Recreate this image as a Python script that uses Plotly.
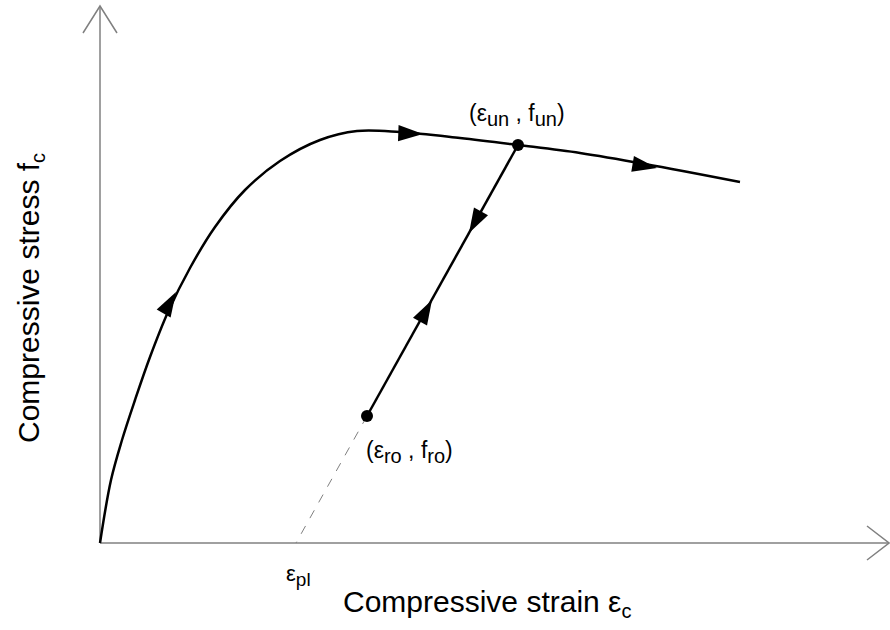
import plotly.graph_objects as go

# Envelope curve (strain, stress) in arbitrary units
env_strain = [0.0, 0.11, 0.22, 0.35, 0.50, 0.68, 0.90, 1.15, 1.45, 1.80, 2.20, 2.57,
              3.00, 3.60, 4.18, 4.80, 5.45, 6.40]
env_stress = [0.0, 0.63, 1.03, 1.43, 1.86, 2.31, 2.75, 3.16, 3.53, 3.82, 4.03, 4.12,
              4.11, 4.05, 3.98, 3.90, 3.79, 3.61]

# Unloading / reloading branch
unload_strain = [4.18, 2.67]
unload_stress = [3.98, 1.27]
# Plastic strain extension (dashed)
plastic_strain = [2.67, 1.96]
plastic_stress = [1.27, 0.0]

# Key points
pt_strain = [4.18, 2.67]
pt_stress = [3.98, 1.27]

# Direction arrows (tip positions and headings)
arrow_strain = [0.76, 3.23, 5.57, 3.69, 3.32]
arrow_stress = [2.51, 4.09, 3.75, 3.10, 2.43]
arrow_angle = [30, 92, 99.5, 209, 29]

axis_color = "#808080"
fig = go.Figure()

# axes with open arrowheads
fig.add_trace(go.Scatter(x=[0, 0], y=[0, 5.37], mode="lines",
                         line=dict(color=axis_color, width=1.5), hoverinfo="skip"))
fig.add_trace(go.Scatter(x=[-0.17, 0, 0.17], y=[5.10, 5.37, 5.10], mode="lines",
                         line=dict(color=axis_color, width=1.5), hoverinfo="skip"))
fig.add_trace(go.Scatter(x=[0, 7.89], y=[0, 0], mode="lines",
                         line=dict(color=axis_color, width=1.5), hoverinfo="skip"))
fig.add_trace(go.Scatter(x=[7.67, 7.89, 7.67], y=[0.17, 0, -0.17], mode="lines",
                         line=dict(color=axis_color, width=1.5), hoverinfo="skip"))

# dashed plastic strain line
fig.add_trace(go.Scatter(x=plastic_strain, y=plastic_stress, mode="lines",
                         line=dict(color="#808080", width=1, dash="dash"), hoverinfo="skip"))

# envelope
fig.add_trace(go.Scatter(x=env_strain, y=env_stress, mode="lines",
                         line=dict(color="black", width=2.5, shape="spline", smoothing=1.0),
                         hoverinfo="skip"))
# unloading branch
fig.add_trace(go.Scatter(x=unload_strain, y=unload_stress, mode="lines",
                         line=dict(color="black", width=2.5), hoverinfo="skip"))

# arrows
fig.add_trace(go.Scatter(x=arrow_strain, y=arrow_stress, mode="markers",
                         marker=dict(symbol="arrow", size=26, angle=arrow_angle,
                                     color="black", line=dict(width=0)),
                         hoverinfo="skip"))
# points
fig.add_trace(go.Scatter(x=pt_strain, y=pt_stress, mode="markers",
                         marker=dict(symbol="circle", size=12, color="black"),
                         hoverinfo="skip"))

font = "Liberation Sans, Arial, sans-serif"


def sub(t, px):
    return "<sub><span style='font-size:%dpx'>%s</span></sub>" % (px, t)


anns = [
    dict(x=4.17, y=4.28, text="(ε" + sub("un", 20) + " , f" + sub("un", 20) + ")", size=23),
    dict(x=3.09, y=0.91, text="(ε" + sub("ro", 20) + " , f" + sub("ro", 20) + ")", size=23),
    dict(x=1.98, y=-0.32, text="ε" + sub("pl", 19), size=22),
    dict(x=3.87, y=-0.60, text="Compressive strain ε" + sub("c", 20), size=30),
]
for a in anns:
    fig.add_annotation(x=a["x"], y=a["y"], text=a["text"], showarrow=False,
                       font=dict(family=font, size=a["size"], color="black"),
                       xanchor="center", yanchor="middle")
fig.add_annotation(x=-0.70, y=2.45, text="Compressive stress f" + sub("c", 20), showarrow=False,
                   textangle=-90, font=dict(family=font, size=30, color="black"),
                   xanchor="center", yanchor="middle")

fig.update_layout(
    width=890, height=630,
    margin=dict(l=0, r=0, t=0, b=0),
    paper_bgcolor="white", plot_bgcolor="white",
    showlegend=False,
    hovermode=False,
    xaxis=dict(range=[-1.0, 7.9], visible=False, fixedrange=True),
    yaxis=dict(range=[-0.87, 5.43], visible=False, fixedrange=True),
)
fig.write_html("out.html", config={"displayModeBar": False, "staticPlot": True},
               post_script="document.body.style.margin='0';document.body.style.overflow='hidden';")
